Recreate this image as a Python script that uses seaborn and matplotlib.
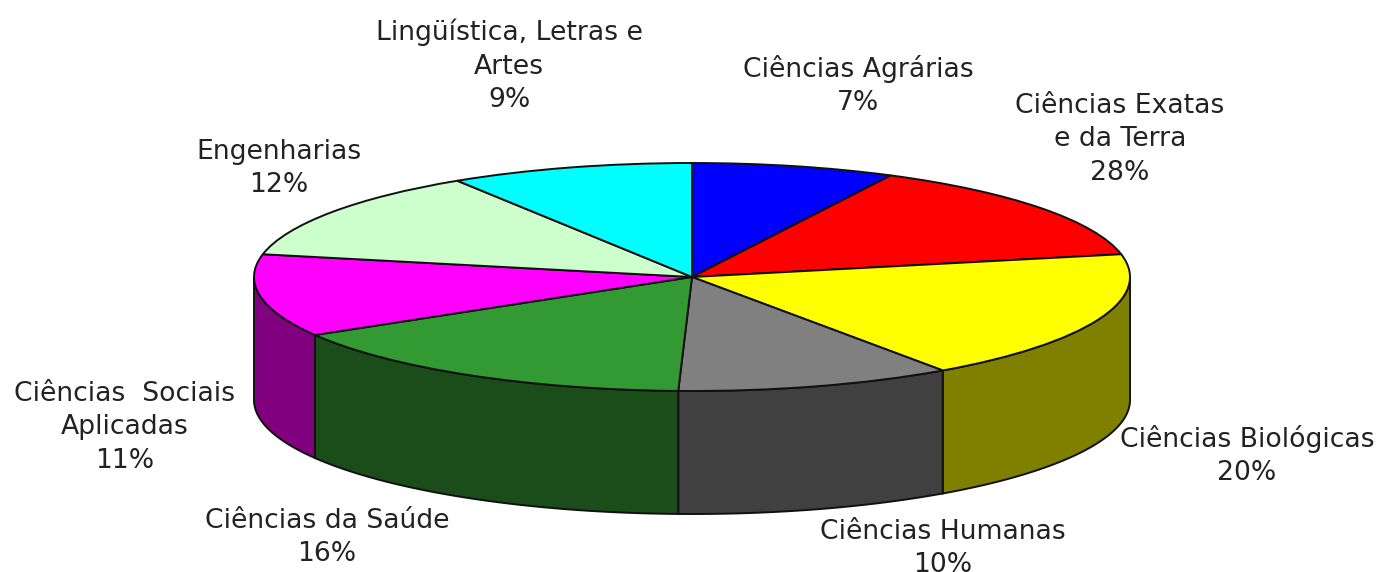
import numpy as np
import seaborn as sns
import matplotlib.pyplot as plt

sns.set_theme(style="white")
plt.rcParams['font.family'] = ['DejaVu Sans']

# slice sizes as drawn in the picture (the printed percentages do not match them exactly)
areas = ['Ciências Agrárias', 'Ciências Exatas\ne da Terra', 'Ciências Biológicas', 'Ciências Humanas',
         'Ciências da Saúde', 'Ciências  Sociais\nAplicadas', 'Engenharias', 'Lingüística, Letras e\nArtes']
shares = [7.5, 14.3, 18.5, 10.2, 16.0, 11.7, 12.8, 9.0]
printed = [7, 28, 20, 10, 16, 11, 12, 9]
colors = ['#0000ff', '#ff0000', '#ffff00', '#808080', '#339933', '#ff00ff', '#ccffcc', '#00ffff']
side_colors = ['#000080', '#800000', '#808000', '#404040', '#1a4d1a', '#800080', '#668066', '#008080']

W, H = 1379, 572
cx, cy, rx, ry, depth = 692, 277, 438, 114, 123

fig = plt.figure(figsize=(W / 100, H / 100), dpi=100, facecolor='white')
ax = fig.add_axes([0, 0, 1, 1])

# pie in unit coordinates, squashed by the axis limits
ax.pie(shares, colors=colors, startangle=90, counterclock=False, radius=1,
       wedgeprops={'edgecolor': '#111111', 'linewidth': 1.4, 'zorder': 3})
ax.set_aspect('auto')
ax.set_xlim(-cx / rx, (W - cx) / rx)
ax.set_ylim(-(H - cy) / ry, cy / ry)

# side wall of the front half
d = depth / ry
edges = 90 - np.cumsum([0] + shares) / np.sum(shares) * 360
for a0, a1, c in zip(edges[:-1], edges[1:], side_colors):
    lo, hi = max(a1, -180), min(a0, 0)
    if lo >= hi:
        continue
    t = np.radians(np.linspace(hi, lo, 60))
    x = np.cos(t)
    y = np.sin(t)
    ax.fill(np.r_[x, x[::-1]], np.r_[y, y[::-1] - d], facecolor=c, edgecolor='#111111', linewidth=1.4, zorder=2)

# labels
label_pos = [(858, 67), (1120, 105), (1247, 437), (943, 531), (327, 520), (125, 393), (279, 151), (509, 31)]
for name, pct, (px, py) in zip(areas, printed, label_pos):
    fig.text(px / W, 1 - (py - 12) / H, f'{name}\n{pct}%', ha='center', va='top', fontsize=19.2,
             color='#222222', linespacing=1.37)

fig.savefig('out.png', dpi=100)
